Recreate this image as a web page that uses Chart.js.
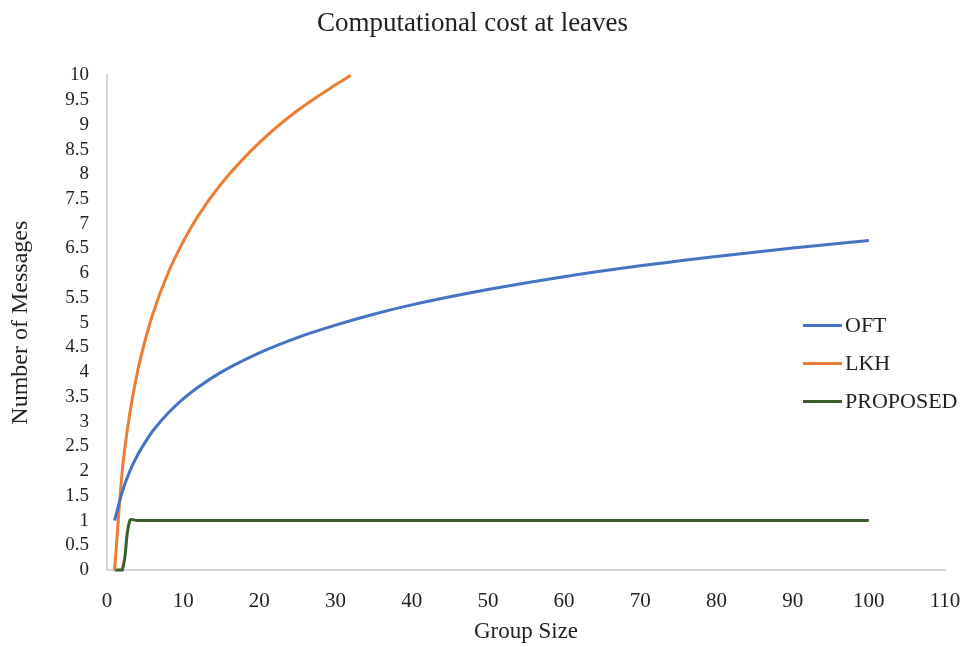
<!DOCTYPE html>
<html>
<head>
<meta charset="utf-8">
<script src="https://cdn.jsdelivr.net/npm/chart.js@4/dist/chart.umd.min.js"></script>
<style>
  html, body { margin: 0; padding: 0; background: #ffffff; }
  #wrap { width: 963px; height: 647px; position: relative; }
</style>
</head>
<body>
<div id="wrap"><canvas id="chart" width="963" height="647"></canvas></div>
<script>
// Group sizes and message counts per scheme
const groupSizeOFT = [1, 2, 3, 4, 5, 6, 8, 10, 12, 15, 20, 25, 30, 35, 40, 50, 60, 70, 80, 90, 100];
const oftMessages  = [1.00, 1.58, 2.00, 2.32, 2.58, 2.81, 3.17, 3.46, 3.70, 4.00, 4.39, 4.70, 4.95, 5.17, 5.36, 5.67, 5.93, 6.15, 6.34, 6.51, 6.66];

const groupSizeLKH = [1, 2, 3, 4, 5, 6, 8, 10, 12, 15, 20, 25, 30, 32];
const lkhMessages  = [0.00, 2.00, 3.17, 4.00, 4.64, 5.17, 6.00, 6.64, 7.17, 7.81, 8.64, 9.29, 9.81, 10.00];

const groupSizeProposed = [1, 2, 3, 4, 100];
const proposedMessages  = [0, 0, 1, 1, 1];

const seriesNames = ['OFT', 'LKH', 'PROPOSED'];

// Axis ranges
const xMin = 0, xMax = 110, xStep = 10;
const yMin = 0, yMax = 10, yStep = 0.5;

const SERIF = "'Liberation Serif', 'Times New Roman', serif";
const TEXT = '#1f1f1f';

function toPoints(xs, ys) {
  return xs.map((x, i) => ({ x: x, y: ys[i] }));
}

// Legend drawn inside the plot on the right, as a vertical list
const sideLegend = {
  id: 'sideLegend',
  afterDatasetsDraw(chart) {
    const ctx = chart.ctx;
    const a = chart.chartArea;
    const x0 = a.left + 696, lineLen = 39, gap = 3;
    const y0 = a.top + 250, rowH = 38;
    ctx.save();
    ctx.font = '22px ' + SERIF;
    ctx.textBaseline = 'middle';
    ctx.textAlign = 'left';
    chart.data.datasets.forEach((ds, i) => {
      const y = y0 + i * rowH;
      ctx.strokeStyle = ds.borderColor;
      ctx.lineWidth = 3;
      ctx.beginPath();
      ctx.moveTo(x0, y);
      ctx.lineTo(x0 + lineLen, y);
      ctx.stroke();
      ctx.fillStyle = TEXT;
      ctx.fillText(ds.label, x0 + lineLen + gap, y + 1);
    });
    ctx.restore();
  }
};

new Chart(document.getElementById('chart'), {
  type: 'line',
  data: {
    datasets: [
      {
        label: seriesNames[0],
        data: toPoints(groupSizeOFT, oftMessages),
        borderColor: '#4472C4',
        borderWidth: 3,
        pointRadius: 0,
        cubicInterpolationMode: 'monotone',
        clip: false
      },
      {
        label: seriesNames[1],
        data: toPoints(groupSizeLKH, lkhMessages),
        borderColor: '#ED7D31',
        borderWidth: 3,
        pointRadius: 0,
        cubicInterpolationMode: 'monotone',
        clip: false
      },
      {
        label: seriesNames[2],
        data: toPoints(groupSizeProposed, proposedMessages),
        borderColor: '#3B5E2B',
        borderWidth: 3,
        pointRadius: 0,
        tension: 0.4,
        clip: false
      }
    ]
  },
  options: {
    responsive: false,
    animation: false,
    layout: { padding: { left: 0, right: 18, top: 0, bottom: 0 } },
    plugins: {
      legend: { display: false },
      tooltip: { enabled: false },
      title: {
        display: true,
        text: 'Computational cost at leaves',
        color: TEXT,
        font: { family: SERIF, size: 27, weight: 'normal' },
        padding: { top: 8, bottom: 35 }
      }
    },
    scales: {
      x: {
        type: 'linear',
        min: xMin,
        max: xMax,
        ticks: {
          stepSize: xStep,
          color: TEXT,
          font: { family: SERIF, size: 21 },
          padding: 19,
          maxRotation: 0
        },
        grid: { display: false, drawTicks: false },
        border: { display: true, color: '#d4d4d4', width: 2 },
        title: {
          display: true,
          text: 'Group Size',
          color: TEXT,
          font: { family: SERIF, size: 23 },
          padding: { top: 0, bottom: 1 }
        },
        afterFit(scale) {
          scale.height = 77;
          scale.paddingRight = 0;
          scale.paddingLeft = 0;
        }
      },
      y: {
        min: yMin,
        max: yMax,
        ticks: {
          stepSize: yStep,
          autoSkip: false,
          color: TEXT,
          font: { family: SERIF, size: 19 },
          padding: 18,
          callback: (v) => String(Math.round(v * 10) / 10)
        },
        grid: { display: false, drawTicks: false },
        border: { display: true, color: '#d4d4d4', width: 2 },
        title: {
          display: true,
          text: 'Number of Messages',
          color: TEXT,
          font: { family: SERIF, size: 24 },
          padding: { top: 6, bottom: 0 }
        },
        afterFit(scale) { scale.width = 107; }
      }
    }
  },
  plugins: [sideLegend]
});
</script>
</body>
</html>
